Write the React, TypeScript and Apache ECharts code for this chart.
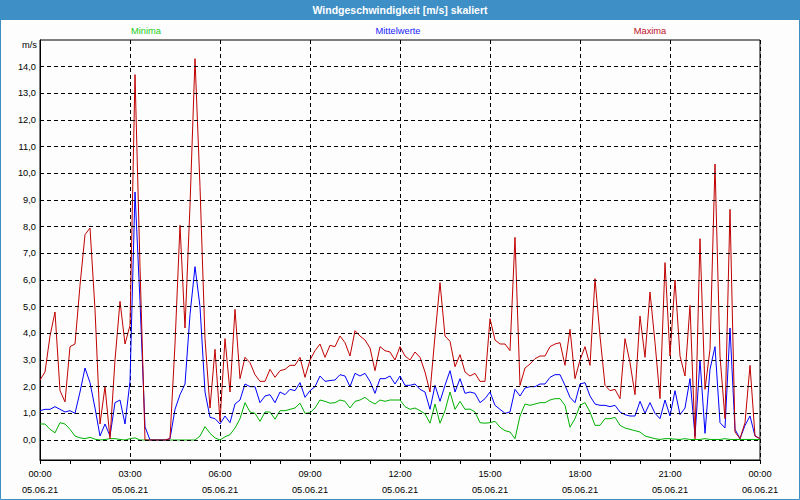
import React, { useEffect, useRef } from "react";
import * as echarts from "echarts";

// 10-minute samples from 05.06.21 00:00 to 06.06.21 00:00 (145 values)
const MINIMA = [
  0.6, 0.6, 0.4, 0.27, 0.65, 0.6, 0.4, 0.15, 0.08, 0.05,
  0.1, 0.03, 0, 0.02, 0.05, 0.05, 0.02, 0, 0.05, 0.08,
  0, 0, 0, 0, 0, 0, 0, 0, 0, 0,
  0, 0, 0.15, 0.5, 0.25, 0.08, 0, 0.12, 0.2, 0.45,
  0.8, 1.4, 1.05, 1.0, 0.7, 1.05, 1.05, 0.78, 1.1, 1.1,
  1.15, 1.2, 1.38, 1.0, 1.02, 1.2, 1.5, 1.45, 1.38, 1.4,
  1.5, 1.45, 1.2, 1.45, 1.5, 1.6, 1.45, 1.35, 1.5, 1.45,
  1.5, 1.5, 1.5, 1.25, 1.15, 1.2, 1.1, 0.98, 0.63, 1.35,
  0.63, 1.1, 1.8, 1.15, 1.45, 1.15, 1.16, 1.05, 0.65, 0.63,
  0.65, 0.7, 0.48, 0.35, 0.3, 0.05, 0.9, 1.35, 1.3, 1.35,
  1.4, 1.4, 1.5, 1.55, 1.55, 1.3, 0.48, 0.8, 1.3, 1.4,
  1.05, 0.55, 0.55, 0.8, 0.8, 0.85, 0.55, 0.45, 0.4, 0.35,
  0.3, 0.15, 0.1, 0.05, 0.02, 0.05, 0.05, 0.03, 0.02, 0.05,
  0.02, 0.02, 0.02, 0.05, 0.02, 0.02, 0.02, 0.05, 0.02, 0.02,
  0.02, 0.02, 0.02, 0.02, 0.02,
];

const MITTELWERTE = [
  1.1, 1.15, 1.15, 1.25, 1.15, 1.05, 1.1, 1.0, 1.8, 2.7,
  2.15, 1.2, 0.15, 0.6, 0.15, 1.4, 1.5, 0.6, 2.2, 9.3,
  5.2, 0.5, 0, 0, 0, 0, 0.05, 1.15, 1.7, 2.1,
  4.7, 6.5, 5.0, 1.8, 0.85, 0.8, 0.6, 0.9, 0.65, 1.35,
  1.5, 2.1, 2.0, 2.0, 1.4, 1.65, 1.7, 1.4, 1.8, 1.7,
  1.9, 1.85, 2.15, 1.6, 1.85, 2.0, 2.4, 2.2, 2.23, 2.25,
  2.45, 2.4, 2.0, 2.5, 2.4, 2.5, 2.2, 1.75, 2.3, 2.3,
  2.4, 2.1, 2.4, 2.05, 2.05, 2.1, 1.9, 1.8, 1.15, 2.05,
  1.45, 2.05, 2.6, 1.8, 2.3, 1.75, 1.8, 1.75, 1.4, 1.55,
  1.8, 1.3, 1.15, 1.0, 1.05, 1.9, 1.65, 1.95, 2.0, 2.0,
  2.1, 2.1, 2.35, 2.45, 2.45, 2.05, 1.6, 1.4, 2.1, 2.15,
  1.65, 1.35, 1.3, 1.3, 1.25, 1.3, 1.05, 0.95, 0.9, 0.9,
  1.45, 1.0, 1.4, 1.0, 0.8, 1.5, 0.9, 1.85, 0.95, 1.2,
  2.3, 0.15, 3.0, 0.25, 2.65, 3.5, 0.65, 0.45, 4.2, 0.4,
  0.05, 0.55, 0.9, 0.15, 0.05,
];

const MAXIMA = [
  2.25, 2.55, 3.9, 4.8, 1.85, 1.43, 3.5, 3.6, 5.8, 7.7,
  7.95, 4.9, 0.6, 2.0, 0.05, 3.0, 5.2, 3.6, 4.3, 13.7,
  6.5, 0, 0, 0, 0, 0, 0.05, 3.6, 8.05, 4.2,
  8.8, 14.3, 9.5, 3.8, 1.2, 3.4, 0.7, 3.8, 1.8, 4.9,
  2.3, 3.1, 2.9, 2.45, 2.2, 2.2, 2.65, 2.35, 2.6, 2.65,
  2.8, 2.8, 3.1, 2.35, 3.0, 3.35, 3.6, 3.1, 3.55, 3.5,
  3.9, 3.65, 3.15, 4.1, 3.9, 3.75, 3.45, 2.6, 3.5, 3.35,
  3.3, 3.0, 3.5, 3.15, 3.0, 3.3, 3.1, 2.55, 1.8, 3.9,
  5.9, 3.9, 3.7, 2.75, 3.2, 2.55, 2.4, 2.5, 2.2, 2.2,
  4.55, 3.75, 3.6, 3.6, 3.35, 7.6, 2.05, 2.7, 2.85, 3.05,
  3.15, 3.15, 3.5, 3.6, 3.65, 2.8, 4.15, 2.3, 3.0, 3.5,
  2.8, 6.05, 3.9, 2.05, 1.85, 1.9, 1.55, 3.8, 2.9, 1.7,
  4.65, 3.1, 5.55, 3.65, 1.55, 6.65, 3.15, 6.0, 3.15, 2.4,
  5.05, 0.05, 7.55, 1.9, 3.4, 10.35, 3.15, 0.8, 8.65, 0.3,
  0.05, 0.65, 2.8, 0.15, 0.05,
];

const SAMPLE_MINUTES = 10;
const X_TICK_TIMES = ["00:00", "03:00", "06:00", "09:00", "12:00", "15:00", "18:00", "21:00", "00:00"];
const X_TICK_DATES = ["05.06.21", "05.06.21", "05.06.21", "05.06.21", "05.06.21", "05.06.21", "05.06.21", "05.06.21", "06.06.21"];
const Y_TICKS = [0, 1, 2, 3, 4, 5, 6, 7, 8, 9, 10, 11, 12, 13, 14];

const TITLE = "Windgeschwindigkeit [m/s] skaliert";
const NAMES = ["Minima", "Mittelwerte", "Maxima"];
const UNIT = "m/s";

const FONT = "'Liberation Sans', Arial, sans-serif";
const BLUE_FRAME = "#3d8fc6";
const C_MIN = "#00b000";
const C_MID = "#0000ff";
const C_MAX = "#c00000";
const T_MIN = "#22cc22";
const T_MID = "#1a1aff";
const T_MAX = "#c0102a";

function toPairs(values: number[]) {
  return values.map((v, i) => [(i * SAMPLE_MINUTES) / 60, v]);
}

export default function App() {
  const ref = useRef<HTMLDivElement>(null);

  useEffect(() => {
    document.body.style.margin = "0";
    const chart = echarts.init(ref.current!, null, { renderer: "svg" });
    const lineBase = {
      type: "line",
      showSymbol: false,
      symbol: "none",
      silent: true,
    };
    chart.setOption({
      animation: false,
      backgroundColor: "#fcfdfc",
      textStyle: { fontFamily: FONT },
      grid: {
        left: 40,
        top: 40,
        width: 720,
        height: 420,
        show: true,
        borderColor: "#000",
        borderWidth: 1,
        backgroundColor: "transparent",
      },
      xAxis: {
        type: "value",
        min: 0,
        max: 24,
        interval: 3,
        axisLine: { show: true, onZero: false, lineStyle: { color: "#000", width: 1 } },
        axisTick: { show: true, length: 4, lineStyle: { color: "#000" } },
        minorTick: { show: true, splitNumber: 3, length: 4, lineStyle: { color: "#000" } },
        splitLine: { show: true, lineStyle: { color: "#000", width: 1, type: [4, 3] } },
        axisLabel: {
          color: "#000",
          fontSize: 9.3,
          fontFamily: FONT,
          lineHeight: 16,
          margin: 6,
          formatter: (v: number) => {
            const k = Math.round(v / 3);
            return X_TICK_TIMES[k] + "\n" + X_TICK_DATES[k];
          },
        },
      },
      yAxis: {
        type: "value",
        min: -0.75,
        max: 15,
        interval: 0.25,
        axisLine: { show: true, onZero: false, lineStyle: { color: "#000", width: 1 } },
        axisTick: { show: false },
        splitLine: { show: false },
        axisLabel: {
          color: "#000",
          fontSize: 9.3,
          fontFamily: FONT,
          margin: 4,
          formatter: (v: number) => {
            const r = Math.round(v);
            if (Math.abs(v - r) > 1e-6 || Y_TICKS.indexOf(r) < 0) return "";
            return r.toFixed(1).replace(".", ",");
          },
        },
      },
      series: [
        {
          ...lineBase,
          name: NAMES[0],
          data: toPairs(MINIMA),
          z: 2,
          lineStyle: { color: C_MIN, width: 1 },
          itemStyle: { color: C_MIN },
          markLine: {
            silent: true,
            symbol: ["none", "none"],
            label: { show: false },
            animation: false,
            lineStyle: { color: "#000", width: 1, type: [4, 3] },
            data: Y_TICKS.map((v) => ({ yAxis: v })),
          },
        },
        {
          ...lineBase,
          name: NAMES[1],
          data: toPairs(MITTELWERTE),
          z: 3,
          lineStyle: { color: C_MID, width: 1 },
          itemStyle: { color: C_MID },
        },
        {
          ...lineBase,
          name: NAMES[2],
          data: toPairs(MAXIMA),
          z: 4,
          lineStyle: { color: C_MAX, width: 1 },
          itemStyle: { color: C_MAX },
        },
      ],
      graphic: [
        {
          type: "rect",
          shape: { x: 0, y: 0, width: 800, height: 20 },
          style: { fill: BLUE_FRAME },
          z: 10,
        },
        {
          type: "rect",
          shape: { x: 0.5, y: 0.5, width: 799, height: 499 },
          style: { fill: "none", stroke: BLUE_FRAME, lineWidth: 1 },
          z: 10,
        },
        {
          type: "text",
          x: 400,
          y: 10,
          z: 11,
          style: {
            text: TITLE,
            fill: "#ffffff",
            font: "bold 10.5px " + FONT,
            textAlign: "center",
            textVerticalAlign: "middle",
          },
        },
        {
          type: "text",
          x: 146,
          y: 31,
          z: 11,
          style: { text: NAMES[0], fill: T_MIN, font: "9.3px " + FONT, textAlign: "center", textVerticalAlign: "middle" },
        },
        {
          type: "text",
          x: 398,
          y: 31,
          z: 11,
          style: { text: NAMES[1], fill: T_MID, font: "9.3px " + FONT, textAlign: "center", textVerticalAlign: "middle" },
        },
        {
          type: "text",
          x: 650,
          y: 31,
          z: 11,
          style: { text: NAMES[2], fill: T_MAX, font: "9.3px " + FONT, textAlign: "center", textVerticalAlign: "middle" },
        },
        {
          type: "text",
          x: 37,
          y: 45,
          z: 11,
          style: { text: UNIT, fill: "#000", font: "9.3px " + FONT, textAlign: "right", textVerticalAlign: "middle" },
        },
      ],
    });
    return () => chart.dispose();
  }, []);

  return <div ref={ref} style={{ width: 800, height: 500 }} />;
}
